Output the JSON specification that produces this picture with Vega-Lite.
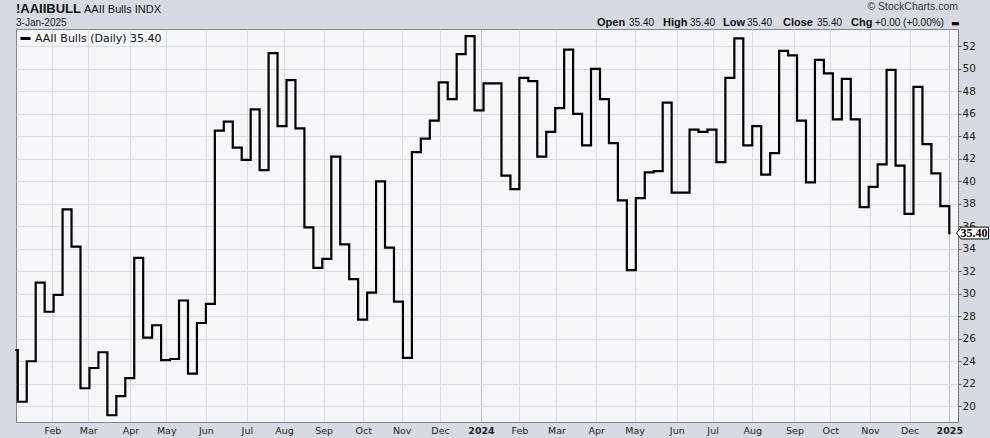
{
  "$schema": "https://vega.github.io/schema/vega-lite/v6.json",
  "width": 942,
  "height": 393,
  "autosize": {"type": "none"},
  "padding": {"left": 16, "top": 29, "right": 32, "bottom": 16},
  "background": "#d6dbe3",
  "config": {
    "font": "Liberation Sans",
    "view": {"fill": "#f5f6fa", "stroke": "#80858e", "strokeWidth": 1}
  },
  "resolve": {"axis": {"x": "independent", "y": "independent"}},
  "layer": [
    {
      "data": {
        "values": [
          {"d": "2023-01-03", "v": 25.0},
          {"d": "2023-01-05", "v": 20.4},
          {"d": "2023-01-12", "v": 24.0},
          {"d": "2023-01-19", "v": 31.0},
          {"d": "2023-01-26", "v": 28.4},
          {"d": "2023-02-02", "v": 29.9},
          {"d": "2023-02-09", "v": 37.5},
          {"d": "2023-02-16", "v": 34.2},
          {"d": "2023-02-23", "v": 21.6},
          {"d": "2023-03-02", "v": 23.4},
          {"d": "2023-03-09", "v": 24.8},
          {"d": "2023-03-16", "v": 19.2},
          {"d": "2023-03-23", "v": 20.9},
          {"d": "2023-03-30", "v": 22.5},
          {"d": "2023-04-06", "v": 33.2},
          {"d": "2023-04-13", "v": 26.1},
          {"d": "2023-04-20", "v": 27.2},
          {"d": "2023-04-27", "v": 24.1},
          {"d": "2023-05-04", "v": 24.2},
          {"d": "2023-05-11", "v": 29.4},
          {"d": "2023-05-18", "v": 22.9},
          {"d": "2023-05-25", "v": 27.4},
          {"d": "2023-06-01", "v": 29.1},
          {"d": "2023-06-08", "v": 44.5},
          {"d": "2023-06-15", "v": 45.3},
          {"d": "2023-06-22", "v": 43.0},
          {"d": "2023-06-29", "v": 41.9},
          {"d": "2023-07-06", "v": 46.4},
          {"d": "2023-07-13", "v": 41.0},
          {"d": "2023-07-20", "v": 51.4},
          {"d": "2023-07-27", "v": 44.9},
          {"d": "2023-08-03", "v": 49.0},
          {"d": "2023-08-10", "v": 44.7},
          {"d": "2023-08-17", "v": 35.9},
          {"d": "2023-08-24", "v": 32.3},
          {"d": "2023-08-31", "v": 33.1},
          {"d": "2023-09-07", "v": 42.2},
          {"d": "2023-09-14", "v": 34.4},
          {"d": "2023-09-21", "v": 31.3},
          {"d": "2023-09-28", "v": 27.7},
          {"d": "2023-10-05", "v": 30.1},
          {"d": "2023-10-12", "v": 40.0},
          {"d": "2023-10-19", "v": 34.1},
          {"d": "2023-10-26", "v": 29.3},
          {"d": "2023-11-02", "v": 24.3},
          {"d": "2023-11-09", "v": 42.6},
          {"d": "2023-11-16", "v": 43.8},
          {"d": "2023-11-23", "v": 45.4},
          {"d": "2023-11-30", "v": 48.8},
          {"d": "2023-12-07", "v": 47.3},
          {"d": "2023-12-14", "v": 51.3},
          {"d": "2023-12-21", "v": 52.9},
          {"d": "2023-12-28", "v": 46.3},
          {"d": "2024-01-04", "v": 48.7},
          {"d": "2024-01-11", "v": 48.7},
          {"d": "2024-01-18", "v": 40.5},
          {"d": "2024-01-25", "v": 39.3},
          {"d": "2024-02-01", "v": 49.2},
          {"d": "2024-02-08", "v": 48.9},
          {"d": "2024-02-15", "v": 42.2},
          {"d": "2024-02-22", "v": 44.4},
          {"d": "2024-02-29", "v": 46.5},
          {"d": "2024-03-07", "v": 51.7},
          {"d": "2024-03-14", "v": 46.0},
          {"d": "2024-03-21", "v": 43.2},
          {"d": "2024-03-28", "v": 50.0},
          {"d": "2024-04-04", "v": 47.3},
          {"d": "2024-04-11", "v": 43.4},
          {"d": "2024-04-18", "v": 38.3},
          {"d": "2024-04-25", "v": 32.1},
          {"d": "2024-05-02", "v": 38.5},
          {"d": "2024-05-09", "v": 40.8},
          {"d": "2024-05-16", "v": 40.9},
          {"d": "2024-05-23", "v": 47.0},
          {"d": "2024-05-30", "v": 39.0},
          {"d": "2024-06-06", "v": 39.0},
          {"d": "2024-06-13", "v": 44.6},
          {"d": "2024-06-20", "v": 44.4},
          {"d": "2024-06-27", "v": 44.6},
          {"d": "2024-07-04", "v": 41.7},
          {"d": "2024-07-11", "v": 49.2},
          {"d": "2024-07-18", "v": 52.7},
          {"d": "2024-07-25", "v": 43.2},
          {"d": "2024-08-01", "v": 44.9},
          {"d": "2024-08-08", "v": 40.6},
          {"d": "2024-08-15", "v": 42.5},
          {"d": "2024-08-22", "v": 51.6},
          {"d": "2024-08-29", "v": 51.2},
          {"d": "2024-09-05", "v": 45.4},
          {"d": "2024-09-12", "v": 39.9},
          {"d": "2024-09-19", "v": 50.8},
          {"d": "2024-09-26", "v": 49.6},
          {"d": "2024-10-03", "v": 45.5},
          {"d": "2024-10-10", "v": 49.1},
          {"d": "2024-10-17", "v": 45.5},
          {"d": "2024-10-24", "v": 37.7},
          {"d": "2024-10-31", "v": 39.5},
          {"d": "2024-11-07", "v": 41.5},
          {"d": "2024-11-14", "v": 49.9},
          {"d": "2024-11-21", "v": 41.4},
          {"d": "2024-11-28", "v": 37.1},
          {"d": "2024-12-05", "v": 48.4},
          {"d": "2024-12-12", "v": 43.3},
          {"d": "2024-12-19", "v": 40.7},
          {"d": "2024-12-26", "v": 37.8},
          {"d": "2025-01-02", "v": 35.4},
          {"d": "2025-01-03", "v": 35.4}
        ]
      },
      "mark": {"type": "line", "interpolate": "step-after", "strokeWidth": 2.2, "strokeJoin": "miter"},
      "encoding": {
        "x": {
          "field": "d",
          "type": "temporal",
          "scale": {"type": "utc", "domain": [1672755840000, 1736363520000]},
          "axis": {
            "title": null,
            "orient": "bottom",
            "values": [
              {"year": 2023, "month": 2, "date": 1, "utc": true},
              {"year": 2023, "month": 3, "date": 1, "utc": true},
              {"year": 2023, "month": 4, "date": 3, "utc": true},
              {"year": 2023, "month": 5, "date": 1, "utc": true},
              {"year": 2023, "month": 6, "date": 1, "utc": true},
              {"year": 2023, "month": 7, "date": 3, "utc": true},
              {"year": 2023, "month": 8, "date": 1, "utc": true},
              {"year": 2023, "month": 9, "date": 1, "utc": true},
              {"year": 2023, "month": 10, "date": 2, "utc": true},
              {"year": 2023, "month": 11, "date": 1, "utc": true},
              {"year": 2023, "month": 12, "date": 1, "utc": true},
              {"year": 2024, "month": 1, "date": 2, "utc": true},
              {"year": 2024, "month": 2, "date": 1, "utc": true},
              {"year": 2024, "month": 3, "date": 1, "utc": true},
              {"year": 2024, "month": 4, "date": 1, "utc": true},
              {"year": 2024, "month": 5, "date": 1, "utc": true},
              {"year": 2024, "month": 6, "date": 3, "utc": true},
              {"year": 2024, "month": 7, "date": 1, "utc": true},
              {"year": 2024, "month": 8, "date": 1, "utc": true},
              {"year": 2024, "month": 9, "date": 3, "utc": true},
              {"year": 2024, "month": 10, "date": 1, "utc": true},
              {"year": 2024, "month": 11, "date": 1, "utc": true},
              {"year": 2024, "month": 12, "date": 2, "utc": true},
              {"year": 2025, "month": 1, "date": 2, "utc": true}
            ],
            "labelExpr": "utcmonth(datum.value) == 0 ? utcFormat(datum.value, '%Y') : utcFormat(datum.value, '%b')",
            "labelFont": "DejaVu Sans",
            "labelFontSize": 9.5,
            "labelColor": "#222222",
            "labelFontWeight": {"condition": {"test": "utcmonth(datum.value) == 0", "value": "bold"}, "value": "normal"},
            "labelPadding": 3,
            "labelOverlap": false,
            "labelFlush": false,
            "ticks": false,
            "tickSize": 0,
            "domain": true,
            "domainColor": "#80858e",
            "grid": true,
            "gridColor": {"condition": {"test": "utcmonth(datum.value) == 0", "value": "#b9bdc5"}, "value": "#d9dce2"},
            "gridWidth": 1
          }
        },
        "y": {
          "field": "v",
          "type": "quantitative",
          "scale": {"domain": [18.6, 53.54], "nice": false, "zero": false},
          "axis": {
            "title": null,
            "orient": "right",
            "values": [20, 22, 24, 26, 28, 30, 32, 34, 36, 38, 40, 42, 44, 46, 48, 50, 52],
            "labelFont": "DejaVu Sans",
            "labelFontSize": 10.5,
            "labelColor": "#222222",
            "labelPadding": 1,
            "labelOverlap": false,
            "labelFlush": false,
            "tickSize": 3,
            "tickColor": "#555555",
            "domain": true,
            "domainColor": "#555555",
            "domainDash": [1, 2],
            "grid": true,
            "gridColor": "#d9dce2",
            "gridWidth": 1
          }
        },
        "color": {
          "datum": "AAII Bulls (Daily) 35.40",
          "type": "nominal",
          "scale": {"range": ["#000000"]},
          "legend": {
            "title": null,
            "orient": "top-left",
            "offset": 3,
            "padding": 0,
            "symbolType": "stroke",
            "symbolSize": 100,
            "symbolStrokeWidth": 3,
            "labelFont": "DejaVu Sans",
            "labelFontSize": 11,
            "labelColor": "#111111",
            "labelOffset": 3,
            "labelLimit": 0
          }
        }
      }
    },
    {
      "data": {"values": [{}]},
      "mark": {
        "type": "point",
        "shape": "M -1 0 L -0.72 -0.37 L 1 -0.37 L 1 0.37 L -0.72 0.37 Z",
        "size": 1024,
        "filled": true,
        "fill": "#ffffff",
        "stroke": "#000000",
        "strokeWidth": 1,
        "opacity": 1,
        "xOffset": 14.5
      },
      "encoding": {
        "x": {"datum": 1736363520000, "type": "temporal", "axis": null},
        "y": {"datum": 35.4, "type": "quantitative", "axis": null}
      }
    },
    {
      "data": {"values": [{}]},
      "mark": {"type": "text", "font": "Liberation Serif", "fontWeight": "bold", "fontSize": 12, "align": "center", "baseline": "middle", "dx": 16, "color": "#000000"},
      "encoding": {
        "x": {"datum": 1736363520000, "type": "temporal", "axis": null},
        "y": {"datum": 35.4, "type": "quantitative", "axis": null},
        "text": {"value": "35.40"}
      }
    },
    {
      "data": {"values": [{}]},
      "mark": {"type": "text", "fontSize": 13, "fontWeight": "bold", "align": "left", "baseline": "alphabetic", "color": "#111111"},
      "encoding": {
        "x": {"datum": 1672755840000, "type": "temporal", "axis": null},
        "y": {"datum": 54.92, "type": "quantitative", "axis": null},
        "text": {"value": "!AAIIBULL"}
      }
    },
    {
      "data": {"values": [{}]},
      "mark": {"type": "text", "fontSize": 10, "align": "left", "baseline": "alphabetic", "color": "#222222"},
      "encoding": {
        "x": {"datum": 1672755840000, "type": "temporal", "axis": null},
        "y": {"datum": 53.81, "type": "quantitative", "axis": null},
        "text": {"value": "3-Jan-2025"}
      }
    },
    {
      "data": {"values": [{}]},
      "mark": {"type": "text", "fontSize": 11, "align": "left", "baseline": "alphabetic", "dx": 68, "color": "#111111"},
      "encoding": {
        "x": {"datum": 1672755840000, "type": "temporal", "axis": null},
        "y": {"datum": 54.92, "type": "quantitative", "axis": null},
        "text": {"value": "AAII Bulls INDX"}
      }
    },
    {
      "data": {"values": [{}]},
      "mark": {"type": "text", "fontSize": 10.5, "align": "right", "baseline": "alphabetic", "color": "#333333"},
      "encoding": {
        "x": {"datum": 1736363520000, "type": "temporal", "axis": null},
        "y": {"datum": 55.2, "type": "quantitative", "axis": null},
        "text": {"value": "© StockCharts.com"}
      }
    },
    {
      "data": {"values": [{}]},
      "mark": {"type": "text", "fontSize": 11, "fontWeight": "bold", "align": "left", "baseline": "alphabetic", "dx": 581, "color": "#111111"},
      "encoding": {
        "x": {"datum": 1672755840000, "type": "temporal", "axis": null},
        "y": {"datum": 53.81, "type": "quantitative", "axis": null},
        "text": {"value": "Open"}
      }
    },
    {
      "data": {"values": [{}]},
      "mark": {"type": "text", "fontSize": 10, "align": "left", "baseline": "alphabetic", "dx": 613, "color": "#111111"},
      "encoding": {
        "x": {"datum": 1672755840000, "type": "temporal", "axis": null},
        "y": {"datum": 53.81, "type": "quantitative", "axis": null},
        "text": {"value": "35.40"}
      }
    },
    {
      "data": {"values": [{}]},
      "mark": {"type": "text", "fontSize": 11, "fontWeight": "bold", "align": "left", "baseline": "alphabetic", "dx": 647, "color": "#111111"},
      "encoding": {
        "x": {"datum": 1672755840000, "type": "temporal", "axis": null},
        "y": {"datum": 53.81, "type": "quantitative", "axis": null},
        "text": {"value": "High"}
      }
    },
    {
      "data": {"values": [{}]},
      "mark": {"type": "text", "fontSize": 10, "align": "left", "baseline": "alphabetic", "dx": 674, "color": "#111111"},
      "encoding": {
        "x": {"datum": 1672755840000, "type": "temporal", "axis": null},
        "y": {"datum": 53.81, "type": "quantitative", "axis": null},
        "text": {"value": "35.40"}
      }
    },
    {
      "data": {"values": [{}]},
      "mark": {"type": "text", "fontSize": 11, "fontWeight": "bold", "align": "left", "baseline": "alphabetic", "dx": 707, "color": "#111111"},
      "encoding": {
        "x": {"datum": 1672755840000, "type": "temporal", "axis": null},
        "y": {"datum": 53.81, "type": "quantitative", "axis": null},
        "text": {"value": "Low"}
      }
    },
    {
      "data": {"values": [{}]},
      "mark": {"type": "text", "fontSize": 10, "align": "left", "baseline": "alphabetic", "dx": 731, "color": "#111111"},
      "encoding": {
        "x": {"datum": 1672755840000, "type": "temporal", "axis": null},
        "y": {"datum": 53.81, "type": "quantitative", "axis": null},
        "text": {"value": "35.40"}
      }
    },
    {
      "data": {"values": [{}]},
      "mark": {"type": "text", "fontSize": 11, "fontWeight": "bold", "align": "left", "baseline": "alphabetic", "dx": 767, "color": "#111111"},
      "encoding": {
        "x": {"datum": 1672755840000, "type": "temporal", "axis": null},
        "y": {"datum": 53.81, "type": "quantitative", "axis": null},
        "text": {"value": "Close"}
      }
    },
    {
      "data": {"values": [{}]},
      "mark": {"type": "text", "fontSize": 10, "align": "left", "baseline": "alphabetic", "dx": 801, "color": "#111111"},
      "encoding": {
        "x": {"datum": 1672755840000, "type": "temporal", "axis": null},
        "y": {"datum": 53.81, "type": "quantitative", "axis": null},
        "text": {"value": "35.40"}
      }
    },
    {
      "data": {"values": [{}]},
      "mark": {"type": "text", "fontSize": 11, "fontWeight": "bold", "align": "left", "baseline": "alphabetic", "dx": 835, "color": "#111111"},
      "encoding": {
        "x": {"datum": 1672755840000, "type": "temporal", "axis": null},
        "y": {"datum": 53.81, "type": "quantitative", "axis": null},
        "text": {"value": "Chg"}
      }
    },
    {
      "data": {"values": [{}]},
      "mark": {"type": "text", "fontSize": 10, "align": "left", "baseline": "alphabetic", "dx": 859, "color": "#111111"},
      "encoding": {
        "x": {"datum": 1672755840000, "type": "temporal", "axis": null},
        "y": {"datum": 53.81, "type": "quantitative", "axis": null},
        "text": {"value": "+0.00 (+0.00%)"}
      }
    },
    {
      "data": {"values": [{}]},
      "mark": {"type": "text", "font": "DejaVu Sans", "fontSize": 9, "align": "left", "baseline": "alphabetic", "dx": 935, "color": "#000000"},
      "encoding": {
        "x": {"datum": 1672755840000, "type": "temporal", "axis": null},
        "y": {"datum": 53.81, "type": "quantitative", "axis": null},
        "text": {"value": "▬"}
      }
    }
  ]
}
